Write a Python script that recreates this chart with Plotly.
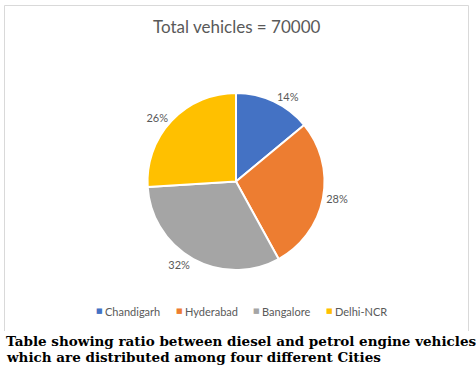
import plotly.graph_objects as go

cities = ["Chandigarh", "Hyderabad", "Bangalore", "Delhi-NCR"]
shares = [14, 28, 32, 26]
colors = ["#4472C4", "#ED7D31", "#A5A5A5", "#FFC000"]
title_text = "Total vehicles = 70000"
caption_lines = [
    "Table showing ratio between diesel and petrol engine vehicles",
    "which are distributed among four different Cities",
]

W, H = 476, 366
fig = go.Figure()

cx, cy, r = 236, 181.5, 88.5
fig.add_trace(go.Pie(
    labels=cities, values=shares, sort=False, direction="clockwise", rotation=0,
    marker=dict(colors=colors, line=dict(color="white", width=2)),
    texttemplate="%{percent:.0%}", textposition="outside",
    textfont=dict(family="Lato", size=11, color="#595959"),
    showlegend=False, hoverinfo="label+percent",
    domain=dict(x=[(cx - r) / W, (cx + r) / W], y=[1 - (cy + r) / H, 1 - (cy - r) / H]),
))

# legend row (Excel style: small square + label)
legend_x = [95, 175, 252, 325]
legend_y = 311
for name, col, lx in zip(cities, colors, legend_x):
    fig.add_annotation(text="■", xref="paper", yref="paper", x=(lx - 1) / W, y=1 - legend_y / H,
                       showarrow=False, xanchor="left", yanchor="middle",
                       font=dict(family="DejaVu Sans", size=7, color=col))
    fig.add_annotation(text=name, xref="paper", yref="paper", x=(lx + 8) / W, y=1 - legend_y / H,
                       showarrow=False, xanchor="left", yanchor="middle",
                       font=dict(family="Lato", size=11, color="#595959"))

border = "#D9D9D9"
fig.add_shape(type="line", xref="paper", yref="paper", x0=4.5 / W, x1=468.5 / W, y0=1 - 5.5 / H, y1=1 - 5.5 / H, line=dict(color=border, width=1))
fig.add_shape(type="line", xref="paper", yref="paper", x0=4.5 / W, x1=4.5 / W, y0=1 - 5.5 / H, y1=1 - 331 / H, line=dict(color=border, width=1))
fig.add_shape(type="line", xref="paper", yref="paper", x0=468.5 / W, x1=468.5 / W, y0=1 - 5.5 / H, y1=1 - 331 / H, line=dict(color=border, width=1))

fig.add_annotation(text=title_text, xref="paper", yref="paper", x=236 / W, y=1 - 27 / H,
                   showarrow=False, xanchor="center", yanchor="middle",
                   font=dict(family="Lato", size=17, color="#595959"))

for i, line in enumerate(caption_lines):
    fig.add_annotation(text="<b>" + line + "</b>", xref="paper", yref="paper",
                       x=4 / W, y=1 - (341 + 16 * i) / H, showarrow=False,
                       xanchor="left", yanchor="middle",
                       font=dict(family="DejaVu Serif", size=13.5, color="black"))

fig.update_layout(
    width=W, height=H, margin=dict(l=0, r=0, t=0, b=0),
    paper_bgcolor="white", plot_bgcolor="white",
    showlegend=False,
)

fig.write_html("out.html", config={"displayModeBar": False},
               post_script="document.body.style.margin='0';")
